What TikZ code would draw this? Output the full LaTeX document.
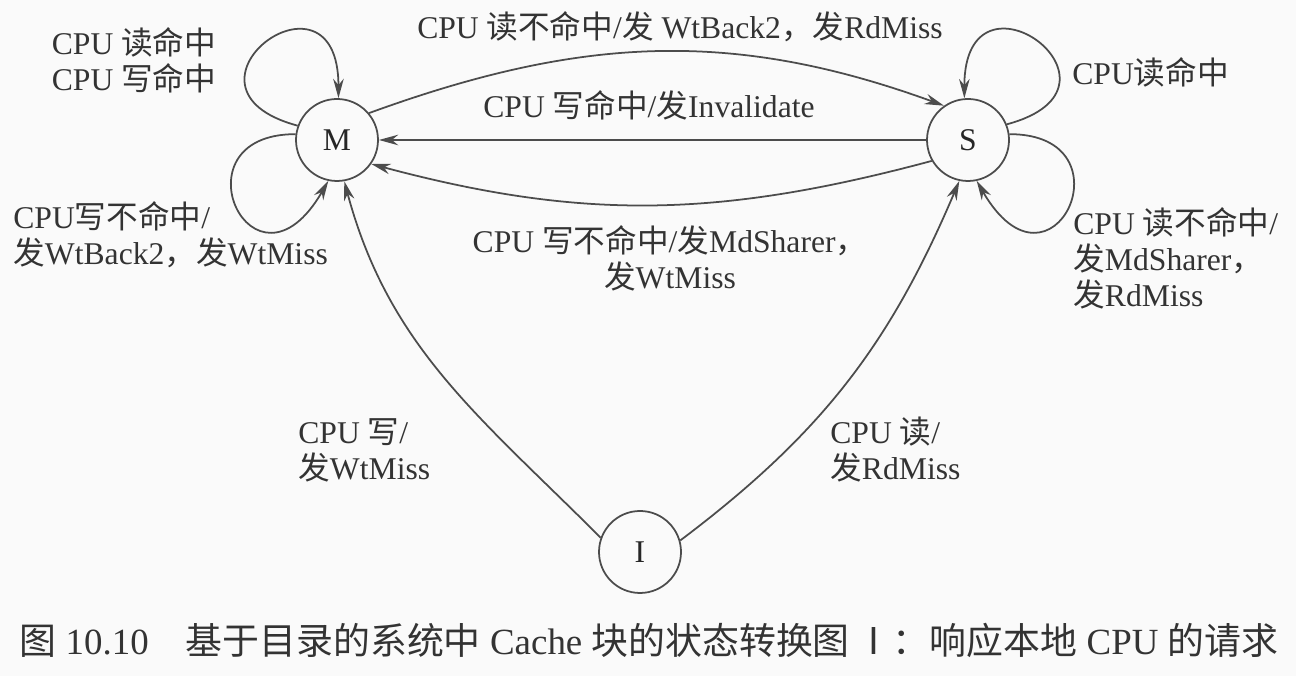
\documentclass[tikz,border=0pt]{standalone}
\usepackage{fontspec}
\setmainfont{Liberation Serif}
\newfontfamily\cjk{Noto Sans CJK SC}
\newcommand{\zh}[1]{{\cjk #1}}
\usetikzlibrary{arrows.meta}

\begin{document}
\begin{tikzpicture}[>={Stealth[length=11pt,width=6pt]},x=1.0cm,y=1.0cm,
		state/.style={circle,draw=black!70,line width=1pt,minimum size=1.64cm,inner sep=0pt,text=black!85,font=\fontsize{18}{20.5}\selectfont},
		edge/.style={->,draw=black!70,line width=1pt},
		lbl/.style={text=black!80,inner sep=0pt,font=\fontsize{18}{20.5}\selectfont}]
		\fill[black!2] (0,0) rectangle (25.92,13.52);
		\useasboundingbox (0,0) rectangle (25.92,13.52);
		% states
		\node[state] (M) at (6.74,10.72) {M};
		\node[state] (S) at (19.36,10.72) {S};
		\node[state] (I) at (12.80,2.48) {I};
		% self loops
		\draw[edge] (M.160) .. controls +(165:2.9) and +(90:2.9) .. (M.88);
		\draw[edge] (M.172) .. controls +(180:2.5) and +(-120:3) .. (M.258);
		\draw[edge] (S.22) .. controls +(15:2.9) and +(90:2.9) .. (S.95);
		\draw[edge] (S.8) .. controls +(0:2.5) and +(-60:3) .. (S.-78);
		% transitions
		\draw[edge] (M.40) to[out=20,in=160] (S.125);
		\draw[edge] (S.west) -- (M.east);
		\draw[edge] (S.210) to[out=195,in=-15] (M.325);
		\draw[edge] (I.160) to[out=135,in=-75] (M.-80);
		\draw[edge] (I.16) to[out=37,in=-113] (S.-102);
		% labels
		\node[lbl,align=left] (mhit) at (2.68,12.32) {CPU \zh{读命中}\\CPU \zh{写命中}};
		\node[lbl,align=left,anchor=west] (mwmiss) at (0.26,8.83) {CPU\zh{写不命中}/\\\zh{发}WtBack2\zh{，发}WtMiss};
		\node[lbl] (msrd) at (13.60,12.98) {CPU \zh{读不命中}/\zh{发} WtBack2\zh{，发}RdMiss};
		\node[lbl] (smwr) at (12.98,11.42) {CPU \zh{写命中}/\zh{发}Invalidate};
		\node[lbl,align=center] (smwmiss) at (13.40,8.36) {CPU \zh{写不命中}/\zh{发}MdSharer\zh{，}\\\zh{发}WtMiss};
		\node[lbl,align=left,anchor=west] (imw) at (5.96,4.52) {CPU \zh{写}/\\\zh{发}WtMiss};
		\node[lbl,align=left,anchor=west] (isr) at (16.60,4.52) {CPU \zh{读}/\\\zh{发}RdMiss};
		\node[lbl,anchor=west] (shit) at (21.44,12.08) {CPU\zh{读命中}};
		\node[lbl,align=left,anchor=west] (srmiss) at (21.46,8.36) {CPU \zh{读不命中}/\\\zh{发}MdSharer\zh{，}\\\zh{发}RdMiss};
		% caption
		\node[lbl,font=\fontsize{21}{24}\selectfont] (cap) at (12.98,0.72) {\zh{图} 10.10\quad \zh{基于目录的系统中} Cache \zh{块的状态转换图}\,\zh{Ⅰ：响应本地} CPU \zh{的请求}};
\end{tikzpicture}
\end{document}
